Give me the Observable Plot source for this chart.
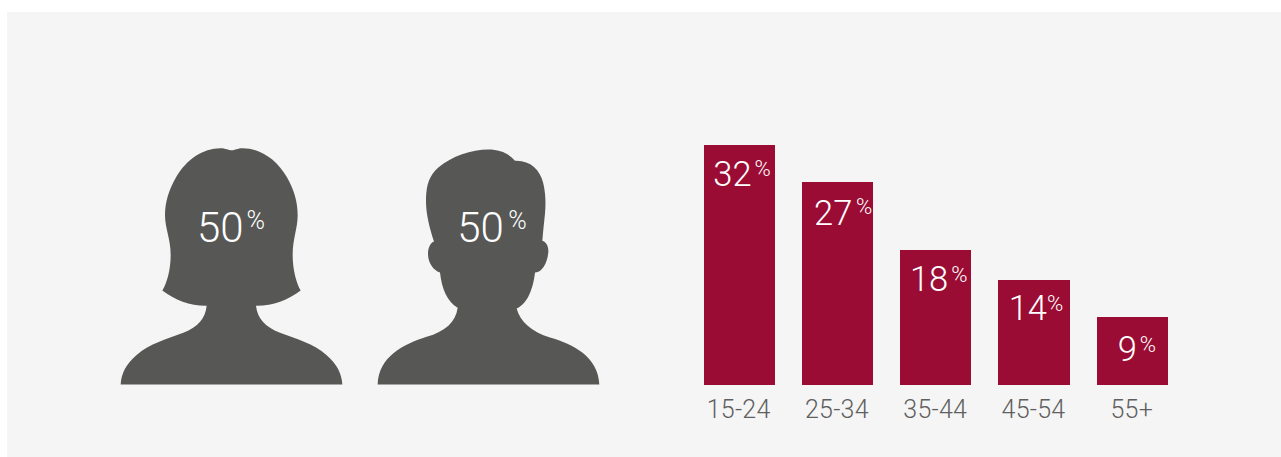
<!DOCTYPE html>
<html>
<head>
<meta charset="utf-8">
<script src="https://cdn.jsdelivr.net/npm/d3@7"></script>
<script src="https://cdn.jsdelivr.net/npm/@observablehq/plot@0.6"></script>
<style>
  html, body { margin: 0; padding: 0; background: #fff; }
  #panel { position: absolute; left: 7px; top: 12px; width: 1274px; height: 445px; background: #f5f5f5; display: flex; overflow: hidden; }
  #panel svg { display: block; flex: none; background: transparent; }
  #panel g[aria-label="x-axis tick label"] text { letter-spacing: 0.25px; }
</style>
</head>
<body>
<div id="panel"></div>
<script>
const genders = ["Female", "Male"];
const genderShares = [50, 50];
const ageGroups = ["15-24", "25-34", "35-44", "45-54", "55+"];
const ageShares = [32, 27, 18, 14, 9];

const font = "Roboto, sans-serif";
const grey = "#575756";
const crimson = "#9b0c35";

// Replays an outline, given in thirds of a pixel around the bottom centre of a figure.
function outline(cx, base, start, curves) {
  const X = (x) => (x - cx) / 3;
  const Y = (y) => (y - base) / 3;
  return {
    draw(ctx) {
      ctx.moveTo(X(start[0]), Y(start[1]));
      for (const c of curves) {
        if (c.length === 2) ctx.lineTo(X(c[0]), Y(c[1]));
        else ctx.bezierCurveTo(X(c[0]), Y(c[1]), X(c[2]), Y(c[3]), X(c[4]), Y(c[5]));
      }
      ctx.closePath();
    }
  };
}

const womanIcon = outline(394.5, 763, [395, 60], [
  [405, 60, 412, 54, 428, 54],
  [480, 54, 530, 88, 560, 140],
  [582, 178, 593, 215, 593, 255],
  [593, 295, 578, 325, 578, 375],
  [578, 420, 590, 460, 602, 481],
  [565, 510, 515, 528, 468, 527],
  [472, 565, 495, 590, 540, 608],
  [590, 627, 640, 640, 680, 675],
  [712, 703, 725, 730, 727, 763],
  [62, 763],
  [64, 730, 77, 703, 109, 675],
  [150, 640, 200, 627, 250, 608],
  [295, 590, 316, 565, 320, 527],
  [273, 528, 224, 510, 187, 481],
  [200, 460, 212, 420, 212, 375],
  [212, 325, 195, 295, 195, 255],
  [195, 215, 207, 178, 229, 140],
  [259, 88, 309, 54, 361, 54],
  [377, 54, 385, 60, 395, 60]
]);

const manIcon = outline(385.5, 763, [385, 58], [
  [420, 58, 447, 70, 465, 92],
  [510, 90, 540, 118, 550, 160],
  [558, 195, 557, 225, 555, 250],
  [552, 280, 549, 305, 547, 332],
  [558, 335, 566, 348, 565, 365],
  [563, 395, 547, 428, 525, 427],
  [520, 470, 505, 520, 470, 535],
  [480, 575, 515, 605, 570, 622],
  [640, 642, 715, 680, 718, 763],
  [53, 763],
  [56, 680, 130, 642, 200, 620],
  [255, 605, 288, 575, 293, 533],
  [262, 515, 245, 475, 240, 427],
  [218, 420, 203, 395, 204, 368],
  [205, 350, 212, 338, 222, 334],
  [208, 290, 197, 250, 198, 205],
  [199, 165, 208, 135, 235, 112],
  [275, 78, 335, 58, 385, 58]
]);

const people = genders.map((gender, i) => ({gender, share: genderShares[i]}));
const ages = ageGroups.map((age, i) => ({age, share: ageShares[i]}));

// Number plus a small raised percent sign, both placed with a text mark.
function shareLabel(data, channels, number, sign) {
  return [
    Plot.text(data, {
      ...channels,
      text: (d) => String(d.share),
      textAnchor: "end",
      lineAnchor: "bottom",
      dx: number.dx,
      dy: number.dy,
      fontSize: number.size,
      fontWeight: 300,
      fontFamily: font,
      fill: "#fff"
    }),
    Plot.text(data, {
      ...channels,
      text: () => "%",
      textAnchor: "start",
      lineAnchor: "bottom",
      dx: sign.dx,
      dy: sign.dy,
      fontSize: sign.size,
      fontWeight: 300,
      fontFamily: font,
      fill: "#fff"
    })
  ];
}

const personOffsets = [{end: 12, start: 15}, {end: 15.3, start: 19.7}];

const peoplePlot = Plot.plot({
  width: 640,
  height: 445,
  marginLeft: 223.5,
  marginRight: 159,
  marginTop: 0,
  marginBottom: 73,
  style: {background: "transparent"},
  x: {type: "point", domain: genders, padding: 0, axis: null},
  marks: [
    ...people.map((d, i) => Plot.dot([d], {
      x: "gender",
      frameAnchor: "bottom",
      symbol: i === 0 ? womanIcon : manIcon,
      fill: grey,
      stroke: "none"
    })),
    ...people.flatMap((d, i) => shareLabel([d], {x: "gender", frameAnchor: "bottom"},
      {dx: personOffsets[i].end, dy: -142.5, size: 42},
      {dx: personOffsets[i].start, dy: -155.5, size: 25}))
  ]
});

// Horizontal and vertical nudges of each bar's label.
const barOffsets = [
  {end: 12, start: 15, dy: 40.5, signDy: 30.5},
  {end: 14.5, start: 18, dy: 42, signDy: 31},
  {end: 12, start: 15, dy: 40.5, signDy: 31.5},
  {end: 12.5, start: 12.5, dy: 39.5, signDy: 30.5},
  {end: 4, start: 7, dy: 43.5, signDy: 34}
];

const barsPlot = Plot.plot({
  width: 634,
  height: 445,
  marginLeft: 56.6,
  marginRight: 113.2,
  marginTop: 132.5,
  marginBottom: 72.5,
  style: {background: "transparent"},
  x: {domain: ageGroups, paddingInner: 0.2777, paddingOuter: 0, round: false, label: null},
  y: {domain: [0, 32], axis: null},
  marks: [
    Plot.axisX({
      tickSize: 0,
      tickPadding: 15,
      dx: -1,
      label: null,
      fontSize: 25,
      fontWeight: 300,
      fontFamily: font,
      color: "#5f5f5f"
    }),
    Plot.barY(ages, {x: "age", y: "share", fill: crimson, shapeRendering: "crispEdges"}),
    ...ages.flatMap((d, i) => shareLabel([d], {x: "age", y: "share"},
      {dx: barOffsets[i].end, dy: barOffsets[i].dy, size: 34.5},
      {dx: barOffsets[i].start, dy: barOffsets[i].signDy, size: 22}))
  ]
});

document.getElementById("panel").append(peoplePlot, barsPlot);
</script>
</body>
</html>
